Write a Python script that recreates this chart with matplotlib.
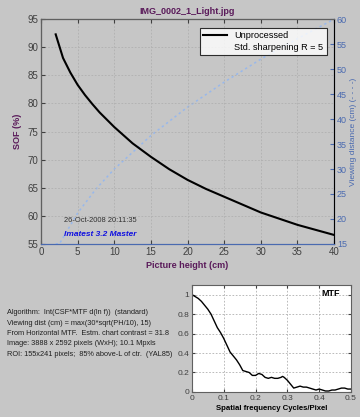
import matplotlib
matplotlib.use('Agg')
import numpy as np
import matplotlib.pyplot as plt

plt.rcParams['font.family'] = ['Liberation Sans', 'DejaVu Sans']

# SOF vs picture height
ph = [2, 3, 4, 5, 6, 7, 8, 10, 12.5, 15, 17.5, 20, 22.5, 25, 27.5, 30, 32.5, 35, 37.5, 40]
sof = [92.3, 88.1, 85.5, 83.3, 81.5, 79.9, 78.4, 75.8, 72.9, 70.5, 68.3, 66.4, 64.8,
       63.4, 62.0, 60.6, 59.5, 58.4, 57.5, 56.6]

# viewing distance (right axis)
ph_vd = [2, 2.5, 5, 7.5, 10, 15, 20, 25, 30, 35, 40]
vd = [15, 15, 21.2, 26, 30, 36.7, 42.4, 47.4, 52, 56.1, 60]

# MTF curve
freq = [0.0, 0.01, 0.02, 0.03, 0.04, 0.05, 0.06, 0.07, 0.08, 0.09, 0.1, 0.11, 0.12, 0.13,
        0.14, 0.15, 0.16, 0.17, 0.18, 0.19, 0.2, 0.21, 0.22, 0.23, 0.24, 0.25, 0.26, 0.27,
        0.28, 0.285, 0.29, 0.3, 0.31, 0.32, 0.33, 0.34, 0.35, 0.36, 0.37, 0.38, 0.39, 0.4,
        0.41, 0.42, 0.43, 0.44, 0.45, 0.46, 0.47, 0.48, 0.49, 0.5]
mtf = [1.0, 0.98, 0.96, 0.93, 0.89, 0.85, 0.80, 0.73, 0.66, 0.61, 0.55, 0.48, 0.41, 0.37,
       0.33, 0.28, 0.22, 0.21, 0.20, 0.17, 0.17, 0.19, 0.18, 0.15, 0.14, 0.15, 0.14, 0.14,
       0.15, 0.16, 0.15, 0.12, 0.08, 0.04, 0.05, 0.06, 0.05, 0.05, 0.04, 0.03, 0.02, 0.03,
       0.02, 0.01, 0.01, 0.02, 0.02, 0.03, 0.04, 0.04, 0.03, 0.03]

info = ["Algorithm:  Int(CSF*MTF d(ln f))  (standard)",
        "Viewing dist (cm) = max(30*sqrt(PH/10), 15)",
        "From Horizontal MTF.  Estm. chart contrast = 31.8",
        "Image: 3888 x 2592 pixels (WxH); 10.1 Mpxls",
        "ROI: 155x241 pixels;  85% above-L of ctr.  (YAL85)"]

purple = '#5a1a5a'
blue_ax = '#4a6ab0'
tick_c = '#404040'

fig = plt.figure(figsize=(3.6, 4.17), dpi=100, facecolor='#c6c6c6')

ax = fig.add_axes([0.114, 0.415, 0.814, 0.539])
ax.plot(ph, sof, color='black', lw=1.5, label='Unprocessed')
ax.plot([], [], color='white', lw=0, label='Std. sharpening R = 5')
ax.set_xlim(0, 40)
ax.set_ylim(55, 95)
ax.set_xticks(range(0, 41, 5))
ax.set_yticks(range(55, 96, 5))
ax.grid(True, color='#b0b0b0', ls=(0, (2, 2)), lw=0.6)
ax.tick_params(direction='in', labelsize=7, colors=tick_c, top=True, length=3, pad=2)
for s in ['left', 'top']:
    ax.spines[s].set_color('#606060')
ax.spines['bottom'].set_color(blue_ax)
ax.set_xlabel('Picture height (cm)', fontsize=6.5, fontweight='bold', color=purple, labelpad=3)
ax.set_ylabel('SOF (%)', fontsize=6.5, fontweight='bold', color=purple, labelpad=4)
ax.set_title('IMG_0002_1_Light.jpg', fontsize=6.5, fontweight='bold', color=purple, pad=4)
leg = ax.legend(loc='upper right', fontsize=6.6, frameon=True, fancybox=False,
                edgecolor='black', handlelength=2.6, borderpad=0.35, labelspacing=0.25,
                bbox_to_anchor=(0.99, 0.98))
leg.get_frame().set_linewidth(0.8)
ax.text(0.08, 0.099, '26-Oct-2008 20:11:35', transform=ax.transAxes, fontsize=5.4, color='#303030')
ax.text(0.08, 0.035, 'Imatest 3.2 Master', transform=ax.transAxes, fontsize=6,
        color='#1010e0', fontweight='bold', style='italic')

ax2 = ax.twinx()
ax2.plot(ph_vd, vd, color='#98b8ec', lw=1.1, ls=(0, (1.5, 2)))
ax2.set_ylim(15, 60)
ax2.set_yticks(range(15, 61, 5))
ax2.tick_params(direction='in', labelsize=6.5, colors=blue_ax, length=3, pad=2)
ax2.spines['right'].set_color(blue_ax)
ax2.spines['bottom'].set_color(blue_ax)
ax2.set_ylabel('Viewing distance (cm) (- - - -)', fontsize=6, color=blue_ax, labelpad=2)
ax.set_zorder(ax2.get_zorder() + 1)
ax.patch.set_visible(False)
ax2.patch.set_facecolor('white')

# info text
for i, line in enumerate(info):
    fig.text(0.02, 1 - (313 + i * 10.3) / 417, line, fontsize=5.3, color='#202020', va='center')

# MTF plot
bx = fig.add_axes([0.533, 0.060, 0.442, 0.257])
bx.plot(freq, mtf, color='black', lw=1.0)
bx.set_xlim(0, 0.5)
bx.set_ylim(0, 1.1)
bx.set_xticks([0, 0.1, 0.2, 0.3, 0.4, 0.5])
bx.set_xticklabels(['0', '0.1', '0.2', '0.3', '0.4', '0.5'])
bx.set_yticks([0, 0.2, 0.4, 0.6, 0.8, 1])
bx.set_yticklabels(['0', '0.2', '0.4', '0.6', '0.8', '1'])
bx.grid(True, color='#b0b0b0', ls=(0, (2, 2)), lw=0.6)
bx.tick_params(direction='in', labelsize=6, colors=tick_c, top=True, right=True, length=2, pad=2)
for s in bx.spines.values():
    s.set_color('#606060')
bx.text(0.93, 0.9, 'MTF', transform=bx.transAxes, fontsize=6.5, fontweight='bold', ha='right')
bx.set_xlabel('Spatial frequency Cycles/Pixel', fontsize=5.6, fontweight='bold', labelpad=2)

fig.savefig('out.png', dpi=100, facecolor=fig.get_facecolor())
